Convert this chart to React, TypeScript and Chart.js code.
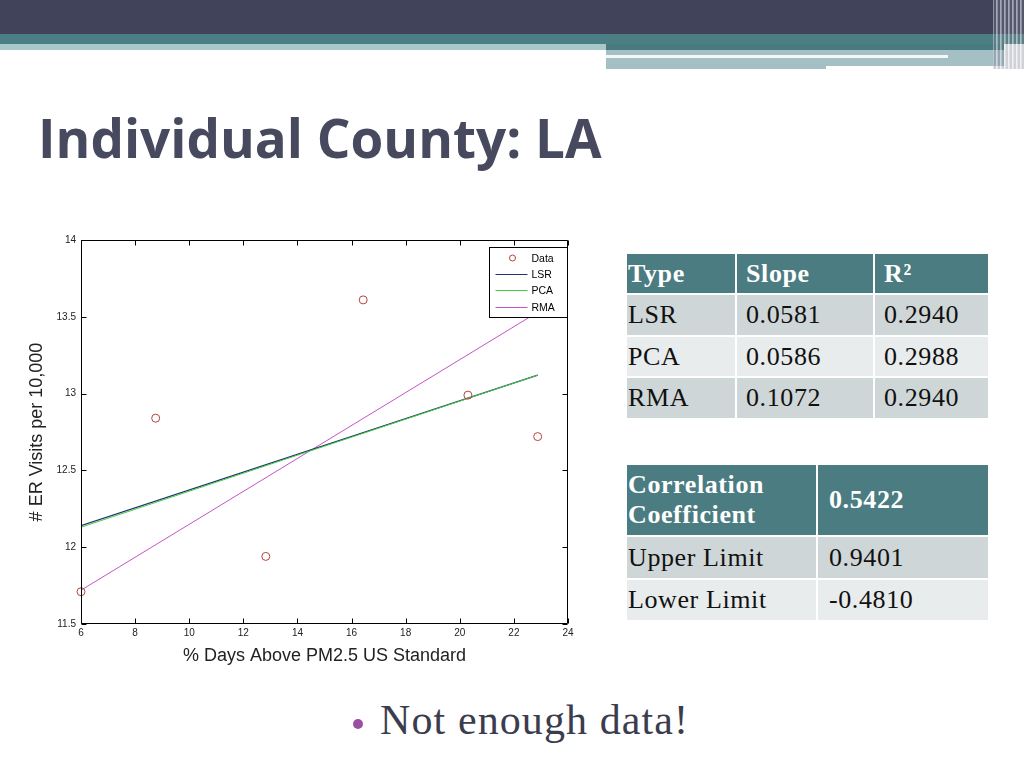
import React, { useEffect, useRef } from "react";
import { Chart, registerables } from "chart.js";

Chart.register(...registerables);

// ---- chart data ----
const dataX = [6.0, 8.76, 12.83, 16.43, 20.3, 22.88];
const dataY = [11.71, 12.84, 11.94, 13.61, 12.99, 12.72];
const fitX = [6.0, 22.88];
const lsrY = [12.14, 13.12];
const pcaY = [12.13, 13.12];
const rmaY = [11.72, 13.53];
const xTickValues = [6, 8, 10, 12, 14, 16, 18, 20, 22, 24];
const yTickValues = [11.5, 12, 12.5, 13, 13.5, 14];
const seriesNames = ["Data", "LSR", "PCA", "RMA"];
const seriesColors = ["#b3433e", "#2a3172", "#3fcf3f", "#c455c6"];
const xTitle = "% Days Above PM2.5 US Standard";
const yTitle = "# ER Visits per 10,000";

// ---- table data ----
const fitHeaders = ["Type", "Slope", "R²"];
const fitTypes = ["LSR", "PCA", "RMA"];
const fitSlopes = ["0.0581", "0.0586", "0.1072"];
const fitR2 = ["0.2940", "0.2988", "0.2940"];
const corrHeader = ["Correlation", "Coefficient"];
const corrValue = "0.5422";
const limitLabels = ["Upper Limit", "Lower Limit"];
const limitValues = ["0.9401", "-0.4810"];
const slideTitle = "Individual County: LA";
const bulletText = "Not enough data!";

const SANS = "'Liberation Sans', Arial, sans-serif";
const SERIF = "'Liberation Serif', 'Times New Roman', serif";

const matlabAxes = {
  id: "matlabAxes",
  afterDatasetsDraw(chart: any) {
    const { ctx, chartArea: a, scales } = chart;
    const L = Math.round(a.left) + 0.5;
    const R = Math.round(a.right) - 0.5;
    const T = Math.round(a.top) + 0.5;
    const B = Math.round(a.bottom) - 0.5;
    ctx.save();
    ctx.strokeStyle = "#000";
    ctx.lineWidth = 1;
    ctx.beginPath();
    ctx.rect(L, T, R - L, B - T);
    const tl = 5;
    xTickValues.forEach((v) => {
      const px = Math.round(scales.x.getPixelForValue(v)) + 0.5;
      ctx.moveTo(px, B);
      ctx.lineTo(px, B - tl);
      ctx.moveTo(px, T);
      ctx.lineTo(px, T + tl);
    });
    yTickValues.forEach((v) => {
      const py = Math.round(scales.y.getPixelForValue(v)) + 0.5;
      ctx.moveTo(L, py);
      ctx.lineTo(L + tl, py);
      ctx.moveTo(R, py);
      ctx.lineTo(R - tl, py);
    });
    ctx.stroke();

    // legend box (MATLAB style, inside the axes, top-right)
    const w = 78;
    const h = 70;
    const lx = Math.round(a.right) - w - 1 + 0.5;
    const ly = Math.round(a.top) + 7 + 0.5;
    ctx.fillStyle = "#fff";
    ctx.fillRect(lx, ly, w, h);
    ctx.strokeStyle = "#000";
    ctx.strokeRect(lx, ly, w, h);
    ctx.font = "10.5px " + SANS;
    ctx.textBaseline = "middle";
    ctx.textAlign = "left";
    seriesNames.forEach((name, i) => {
      const yy = Math.round(ly + 10 + i * 16.4);
      ctx.strokeStyle = seriesColors[i];
      ctx.beginPath();
      if (i === 0) {
        ctx.arc(lx + 23, yy, 3, 0, Math.PI * 2);
      } else {
        ctx.moveTo(lx + 6, yy + 0.5);
        ctx.lineTo(lx + 38, yy + 0.5);
      }
      ctx.stroke();
      ctx.fillStyle = "#000";
      ctx.fillText(name, lx + 42, yy + 1);
    });
    ctx.restore();
  },
};

function ScatterChart() {
  const ref = useRef<HTMLCanvasElement | null>(null);
  useEffect(() => {
    if (!ref.current) return;
    const pts = (xs: number[], ys: number[]) => xs.map((x, i) => ({ x, y: ys[i] }));
    const chart = new Chart(ref.current, {
      type: "scatter",
      data: {
        datasets: [
          {
            label: seriesNames[0],
            data: pts(dataX, dataY),
            pointRadius: 4,
            pointStyle: "circle",
            borderColor: seriesColors[0],
            backgroundColor: "rgba(0,0,0,0)",
            borderWidth: 1,
            showLine: false,
            clip: false,
            order: 0,
          },
          {
            label: seriesNames[2],
            data: pts(fitX, pcaY),
            showLine: true,
            pointRadius: 0,
            borderColor: seriesColors[2],
            borderWidth: 1,
            order: 1,
          },
          {
            label: seriesNames[1],
            data: pts(fitX, lsrY),
            showLine: true,
            pointRadius: 0,
            borderColor: seriesColors[1],
            borderWidth: 1.2,
            order: 2,
          },
          {
            label: seriesNames[3],
            data: pts(fitX, rmaY),
            showLine: true,
            pointRadius: 0,
            borderColor: seriesColors[3],
            borderWidth: 1,
            order: 3,
          },
        ],
      },
      options: {
        animation: false,
        responsive: false,
        layout: { padding: { left: 2, top: 12, right: 12, bottom: 0 } },
        plugins: { legend: { display: false }, tooltip: { enabled: false } },
        scales: {
          x: {
            type: "linear",
            min: 6,
            max: 24,
            afterBuildTicks: (s: any) => {
              s.ticks = xTickValues.map((v) => ({ value: v }));
            },
            afterFit: (s: any) => {
              s.height = 49;
            },
            grid: { display: false, drawTicks: false },
            border: { display: false },
            ticks: {
              padding: 3,
              autoSkip: false,
              maxRotation: 0,
              color: "#222",
              font: { family: SANS, size: 10 },
              callback: (v: any) => String(v),
            },
            title: {
              display: true,
              text: xTitle,
              color: "#222",
              font: { family: SANS, size: 18 },
              padding: { top: 0, bottom: 6 },
            },
          },
          y: {
            type: "linear",
            min: 11.5,
            max: 14,
            afterBuildTicks: (s: any) => {
              s.ticks = yTickValues.map((v) => ({ value: v }));
            },
            afterFit: (s: any) => {
              s.width = 59;
            },
            grid: { display: false, drawTicks: false },
            border: { display: false },
            ticks: {
              padding: 5,
              autoSkip: false,
              color: "#222",
              font: { family: SANS, size: 10 },
              callback: (v: any) => String(v),
            },
            title: {
              display: true,
              text: yTitle,
              color: "#222",
              font: { family: SANS, size: 18 },
              padding: { top: 4, bottom: 0 },
            },
          },
        },
      },
      plugins: [matlabAxes],
    });
    return () => chart.destroy();
  }, []);
  return (
    <canvas
      ref={ref}
      width={560}
      height={445}
      style={{ position: "absolute", left: 20, top: 228, width: 560, height: 445, background: "#fff" }}
    />
  );
}

const TEAL = "#4a7c81";
const ROW_DARK = "#cfd6d7";
const ROW_LIGHT = "#e8ecec";

const cellBase: React.CSSProperties = {
  display: "flex",
  alignItems: "center",
  fontFamily: SERIF,
  fontSize: 26,
  letterSpacing: 0.6,
  color: "#111",
  whiteSpace: "nowrap",
  overflow: "hidden",
};

function Cell(props: { bg: string; pl: number; head?: boolean; children: React.ReactNode }) {
  return (
    <div
      style={{
        ...cellBase,
        background: props.bg,
        paddingLeft: props.pl,
        color: props.head ? "#fff" : "#111",
        fontWeight: props.head ? 700 : 400,
      }}
    >
      {props.children}
    </div>
  );
}

export default function App() {
  const rowBg = [ROW_DARK, ROW_LIGHT, ROW_DARK];
  return (
    <div
      style={{
        position: "absolute",
        left: 0,
        top: 0,
        width: 1024,
        height: 768,
        background: "#fff",
        overflow: "hidden",
      }}
    >
      {/* top decorative bands */}
      <div style={{ position: "absolute", left: 0, top: 0, width: 1024, height: 34, background: "#41435a" }} />
      <div style={{ position: "absolute", left: 0, top: 34, width: 1024, height: 10, background: "#4b7f85" }} />
      <div style={{ position: "absolute", left: 0, top: 44, width: 606, height: 6, background: "#a9c8c8" }} />
      <div style={{ position: "absolute", left: 606, top: 44, width: 398, height: 6, background: "#477b80" }} />
      <div style={{ position: "absolute", left: 606, top: 50, width: 398, height: 16, background: "#a4c0c5" }} />
      <div style={{ position: "absolute", left: 606, top: 66, width: 220, height: 3, background: "#a4c0c5" }} />
      <div style={{ position: "absolute", left: 606, top: 55, width: 342, height: 3, background: "#f4f8f8" }} />
      <div
        style={{
          position: "absolute",
          left: 993,
          top: 0,
          width: 31,
          height: 69,
          background:
            "repeating-linear-gradient(90deg, rgba(200,204,214,0.55) 0px, rgba(200,204,214,0.55) 1px, rgba(120,124,140,0.35) 1px, rgba(120,124,140,0.35) 3px, rgba(230,232,238,0.6) 3px, rgba(230,232,238,0.6) 4px)",
        }}
      />

      {/* title */}
      <div
        style={{
          position: "absolute",
          left: 38,
          top: 111,
          fontFamily: "'Open Sans', 'DejaVu Sans', sans-serif",
          fontWeight: 700,
          fontSize: 53,
          lineHeight: "53px",
          color: "#474a5e",
          whiteSpace: "nowrap",
        }}
      >
        {slideTitle}
      </div>

      <ScatterChart />

      {/* regression table */}
      <div
        style={{
          position: "absolute",
          left: 627,
          top: 254,
          width: 361,
          display: "grid",
          gridTemplateColumns: "108px 136px 113px",
          gridTemplateRows: "39px 40px 39px 40px",
          gap: 2,
          background: "#fff",
        }}
      >
        {fitHeaders.map((h, i) => (
          <Cell key={"h" + i} bg={TEAL} pl={i === 0 ? 1 : 9} head>
            {h}
          </Cell>
        ))}
        {fitTypes.map((t, r) => (
          <React.Fragment key={"r" + r}>
            <Cell bg={rowBg[r]} pl={1}>
              {t}
            </Cell>
            <Cell bg={rowBg[r]} pl={9}>
              {fitSlopes[r]}
            </Cell>
            <Cell bg={rowBg[r]} pl={9}>
              {fitR2[r]}
            </Cell>
          </React.Fragment>
        ))}
      </div>

      {/* correlation table */}
      <div
        style={{
          position: "absolute",
          left: 627,
          top: 465,
          width: 361,
          display: "grid",
          gridTemplateColumns: "189px 170px",
          gridTemplateRows: "70px 41px 40px",
          gap: 2,
          background: "#fff",
        }}
      >
        <Cell bg={TEAL} pl={1} head>
          <div style={{ lineHeight: "30px" }}>
            {corrHeader[0]}
            <br />
            {corrHeader[1]}
          </div>
        </Cell>
        <Cell bg={TEAL} pl={11} head>
          {corrValue}
        </Cell>
        {limitLabels.map((l, r) => (
          <React.Fragment key={"l" + r}>
            <Cell bg={r === 0 ? ROW_DARK : ROW_LIGHT} pl={1}>
              {l}
            </Cell>
            <Cell bg={r === 0 ? ROW_DARK : ROW_LIGHT} pl={11}>
              {limitValues[r]}
            </Cell>
          </React.Fragment>
        ))}
      </div>

      {/* bullet */}
      <div
        style={{
          position: "absolute",
          left: 353,
          top: 719,
          width: 10,
          height: 10,
          borderRadius: 5,
          background: "#9b4fa3",
        }}
      />
      <div
        style={{
          position: "absolute",
          left: 380,
          top: 696,
          fontFamily: SERIF,
          fontSize: 42,
          letterSpacing: 1.1,
          lineHeight: "48px",
          color: "#3b3d4f",
          whiteSpace: "nowrap",
        }}
      >
        {bulletText}
      </div>
    </div>
  );
}
